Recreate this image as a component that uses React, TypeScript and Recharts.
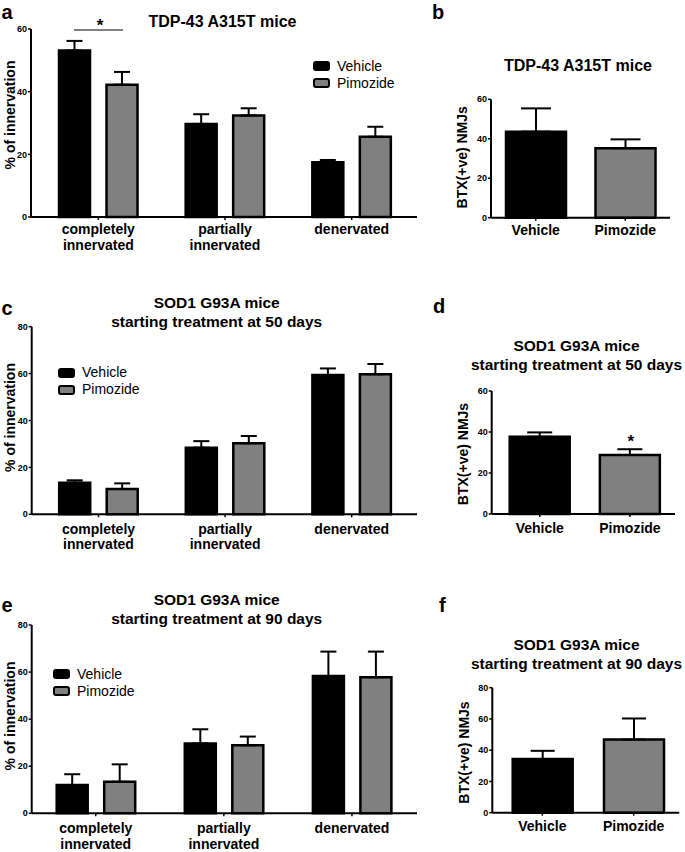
import React from 'react';
import { BarChart, Bar, XAxis, YAxis, ErrorBar, Cell, Legend } from 'recharts';

const FONT = '"Liberation Sans", Arial, Helvetica, sans-serif';
const BLACK = '#000000';
const GREY = '#808080';

// ---------- categories / tick labels ----------
const innervationCategories = ['completely innervated', 'partially innervated', 'denervated'];
const treatmentCategories = ['Vehicle', 'Pimozide'];
const ticks60 = [0, 20, 40, 60];
const ticks80 = [0, 20, 40, 60, 80];

// ---------- panel a : TDP-43 A315T, % of innervation ----------
const aVehicle = [53.1, 29.7, 17.5];
const aVehicleSem = [3.1, 3.1, 0.7];
const aPimozide = [42.2, 32.4, 25.6];
const aPimozideSem = [4.1, 2.3, 3.2];

// ---------- panel b : TDP-43 A315T, BTX(+ve) NMJs ----------
const bValues = [43.6, 35.2];
const bSem = [11.8, 4.5];

// ---------- panel c : SOD1 G93A, 50 days ----------
const cVehicle = [13.5, 28.4, 59.4];
const cVehicleSem = [1.0, 2.8, 2.8];
const cPimozide = [10.8, 30.3, 59.7];
const cPimozideSem = [2.4, 3.1, 4.4];

// ---------- panel d : SOD1 G93A, 50 days, NMJs ----------
const dValues = [37.7, 28.8];
const dSem = [2.1, 2.8];

// ---------- panel e : SOD1 G93A, 90 days ----------
const eVehicle = [12.0, 29.7, 58.3];
const eVehicleSem = [4.6, 6.0, 10.4];
const ePimozide = [13.4, 28.9, 57.8];
const ePimozideSem = [7.4, 3.7, 10.9];

// ---------- panel f : SOD1 G93A, 90 days, NMJs ----------
const fValues = [34.3, 46.8];
const fSem = [5.3, 13.5];

const groupedRows = (veh: number[], vehSem: number[], pim: number[], pimSem: number[]) =>
  innervationCategories.map((category, i) => ({
    category,
    Vehicle: veh[i],
    vehicleErr: [0, vehSem[i]],
    Pimozide: pim[i],
    pimozideErr: [0, pimSem[i]],
  }));

const singleRows = (values: number[], sem: number[]) =>
  treatmentCategories.map((category, i) => ({ category, value: values[i], err: [0, sem[i]] }));

const CategoryTick = (props: any) => {
  const { x, y, payload, base, gap } = props;
  const lines = String(payload.value).split(' ');
  return (
    <g>
      {lines.map((line: string, i: number) => (
        <text
          key={i}
          x={x}
          y={y - 5 + base + i * gap}
          textAnchor="middle"
          fontFamily={FONT}
          fontWeight="bold"
          fontSize={14}
          fill="#000"
        >
          {line}
        </text>
      ))}
    </g>
  );
};

const LegendContent = (props: any) => {
  const payload = [...(props.payload || [])].sort(
    (a: any, b: any) => treatmentCategories.indexOf(a.value) - treatmentCategories.indexOf(b.value)
  );
  return (
    <div style={{ fontFamily: FONT, fontSize: 14, color: '#000', lineHeight: '17px' }}>
      {payload.map((entry: any) => (
        <div key={entry.value} style={{ display: 'flex', alignItems: 'center', height: 17 }}>
          <span
            style={{
              display: 'inline-block',
              boxSizing: 'border-box',
              width: 17,
              height: 10,
              background: entry.value === 'Vehicle' ? BLACK : GREY,
              border: '2px solid #000',
              borderRadius: 3,
              marginRight: 7,
            }}
          />
          <span>{entry.value}</span>
        </div>
      ))}
    </div>
  );
};

const yTick = { fontSize: 9, fontWeight: 'bold', fill: '#000', fontFamily: FONT };

type GroupedProps = {
  rows: any[];
  left: number;
  top: number;
  width: number;
  height: number;
  margin: { top: number; right: number; bottom: number; left: number };
  yWidth: number;
  xHeight: number;
  max: number;
  ticks: number[];
  padL: number;
  padR: number;
  base: number;
  gap: number;
  legendLeft: number;
  legendTop: number;
};

const GroupedPanel = (p: GroupedProps) => (
  <div style={{ position: 'absolute', left: p.left, top: p.top }}>
    <BarChart width={p.width} height={p.height} data={p.rows} margin={p.margin} barSize={31} barGap={16.5}>
      <XAxis
        dataKey="category"
        height={p.xHeight}
        interval={0}
        padding={{ left: p.padL, right: p.padR }}
        axisLine={{ stroke: '#000', strokeWidth: 2 }}
        tickLine={{ stroke: '#000', strokeWidth: 1.5 }}
        tickSize={3}
        tick={<CategoryTick base={p.base} gap={p.gap} />}
      />
      <YAxis
        width={p.yWidth}
        domain={[0, p.max]}
        ticks={p.ticks}
        interval={0}
        axisLine={{ stroke: '#000', strokeWidth: 2 }}
        tickLine={{ stroke: '#000', strokeWidth: 1.5 }}
        tickSize={3}
        tickMargin={1}
        tick={yTick}
      />
      <Legend
        layout="vertical"
        align="center"
        verticalAlign="middle"
        content={<LegendContent />}
        wrapperStyle={{ left: p.legendLeft, top: p.legendTop, width: 'auto' }}
      />
      <Bar dataKey="Vehicle" name="Vehicle" fill={BLACK} stroke="#000" strokeWidth={2.5} isAnimationActive={false}>
        <ErrorBar dataKey="vehicleErr" direction="y" width={8} stroke="#000" strokeWidth={2} isAnimationActive={false} />
      </Bar>
      <Bar dataKey="Pimozide" name="Pimozide" fill={GREY} stroke="#000" strokeWidth={2.5} isAnimationActive={false}>
        <ErrorBar dataKey="pimozideErr" direction="y" width={8} stroke="#000" strokeWidth={2} isAnimationActive={false} />
      </Bar>
    </BarChart>
  </div>
);

type SingleProps = {
  rows: any[];
  left: number;
  top: number;
  width: number;
  height: number;
  margin: { top: number; right: number; bottom: number; left: number };
  yWidth: number;
  xHeight: number;
  max: number;
  ticks: number[];
  padL: number;
  padR: number;
  base: number;
  cap: number;
};

const SinglePanel = (p: SingleProps) => (
  <div style={{ position: 'absolute', left: p.left, top: p.top }}>
    <BarChart width={p.width} height={p.height} data={p.rows} margin={p.margin} barSize={60}>
      <XAxis
        dataKey="category"
        height={p.xHeight}
        interval={0}
        padding={{ left: p.padL, right: p.padR }}
        axisLine={{ stroke: '#000', strokeWidth: 2 }}
        tickLine={{ stroke: '#000', strokeWidth: 1.5 }}
        tickSize={3}
        tick={<CategoryTick base={p.base} gap={16} />}
      />
      <YAxis
        width={p.yWidth}
        domain={[0, p.max]}
        ticks={p.ticks}
        interval={0}
        axisLine={{ stroke: '#000', strokeWidth: 2 }}
        tickLine={{ stroke: '#000', strokeWidth: 1.5 }}
        tickSize={3}
        tickMargin={1}
        tick={yTick}
      />
      <Bar dataKey="value" stroke="#000" strokeWidth={2.5} isAnimationActive={false}>
        {p.rows.map((r: any) => (
          <Cell key={r.category} fill={r.category === 'Vehicle' ? BLACK : GREY} />
        ))}
        <ErrorBar dataKey="err" direction="y" width={p.cap} stroke="#000" strokeWidth={2} isAnimationActive={false} />
      </Bar>
    </BarChart>
  </div>
);

const T = (props: { x: number; y: number; size: number; children: any; anchor?: string; rotate?: boolean; weight?: string }) => (
  <text
    x={props.x}
    y={props.y}
    fontFamily={FONT}
    fontWeight={props.weight || 'bold'}
    fontSize={props.size}
    fill="#000"
    textAnchor={props.anchor || 'middle'}
    transform={props.rotate ? `rotate(-90 ${props.x} ${props.y})` : undefined}
  >
    {props.children}
  </text>
);

export default function App() {
  return (
    <div style={{ position: 'absolute', left: 0, top: 0, width: 685, height: 852, background: '#fff', overflow: 'hidden' }}>
      <GroupedPanel
        rows={groupedRows(aVehicle, aVehicleSem, aPimozide, aPimozideSem)}
        left={0}
        top={0}
        width={420}
        height={260}
        margin={{ top: 29, right: 3, bottom: 3, left: 0 }}
        yWidth={31}
        xHeight={40}
        max={60}
        ticks={ticks60}
        padL={4}
        padR={2}
        base={17}
        gap={16}
        legendLeft={313}
        legendTop={57.5}
      />
      <SinglePanel
        rows={singleRows(bValues, bSem)}
        left={420}
        top={0}
        width={265}
        height={260}
        margin={{ top: 99.3, right: 15, bottom: 2.3, left: 0 }}
        yWidth={71}
        xHeight={40}
        max={60}
        ticks={ticks60}
        padL={0}
        padR={0}
        base={17}
        cap={15}
      />
      <GroupedPanel
        rows={groupedRows(cVehicle, cVehicleSem, cPimozide, cPimozideSem)}
        left={0}
        top={280}
        width={420}
        height={280}
        margin={{ top: 46.7, right: 3, bottom: 5.7, left: 0 }}
        yWidth={31.7}
        xHeight={40}
        max={80}
        ticks={ticks80}
        padL={3.5}
        padR={2}
        base={20}
        gap={15}
        legendLeft={58}
        legendTop={84.2}
      />
      <SinglePanel
        rows={singleRows(dValues, dSem)}
        left={420}
        top={280}
        width={265}
        height={280}
        margin={{ top: 111, right: 10, bottom: 6, left: 0 }}
        yWidth={71.7}
        xHeight={40}
        max={60}
        ticks={ticks60}
        padL={3}
        padR={0}
        base={18.7}
        cap={12.5}
      />
      <GroupedPanel
        rows={groupedRows(eVehicle, eVehicleSem, ePimozide, ePimozideSem)}
        left={0}
        top={580}
        width={420}
        height={272}
        margin={{ top: 45, right: 3, bottom: 2.7, left: 0 }}
        yWidth={31.7}
        xHeight={36}
        max={80}
        ticks={ticks80}
        padL={0}
        padR={1}
        base={20}
        gap={16}
        legendLeft={53}
        legendTop={85.8}
      />
      <SinglePanel
        rows={singleRows(fValues, fSem)}
        left={420}
        top={580}
        width={265}
        height={272}
        margin={{ top: 107.7, right: 5.7, bottom: 3.3, left: 0 }}
        yWidth={72.3}
        xHeight={36}
        max={80}
        ticks={ticks80}
        padL={4.4}
        padR={0}
        base={18.3}
        cap={12}
      />
      <svg
        width={685}
        height={852}
        style={{ position: 'absolute', left: 0, top: 0, pointerEvents: 'none', overflow: 'visible' }}
      >
        {/* panel letters */}
        <T x={1.5} y={18.5} size={20} anchor="start">a</T>
        <T x={432} y={19} size={20} anchor="start">b</T>
        <T x={1.5} y={315} size={20} anchor="start">c</T>
        <T x={433} y={313.3} size={20} anchor="start">d</T>
        <T x={1.5} y={611.7} size={20} anchor="start">e</T>
        <T x={439} y={611.7} size={20} anchor="start">f</T>

        {/* titles */}
        <T x={222.5} y={26.5} size={16}>TDP-43 A315T mice</T>
        <T x={578} y={70.9} size={16}>TDP-43 A315T mice</T>
        <T x={216.7} y={307.5} size={15.5}>SOD1 G93A mice</T>
        <T x={216.7} y={327} size={15.5}>starting treatment at 50 days</T>
        <T x={576.5} y={350.9} size={15.5}>SOD1 G93A mice</T>
        <T x={576.5} y={370} size={15.5}>starting treatment at 50 days</T>
        <T x={216.7} y={604.9} size={15.5}>SOD1 G93A mice</T>
        <T x={216.7} y={624.4} size={15.5}>starting treatment at 90 days</T>
        <T x={576.5} y={649.9} size={15.5}>SOD1 G93A mice</T>
        <T x={576.5} y={669} size={15.5}>starting treatment at 90 days</T>

        {/* y-axis labels */}
        <T x={15} y={115} size={14} rotate>% of innervation</T>
        <T x={467.5} y={157.3} size={14} rotate>BTX(+ve) NMJs</T>
        <T x={15} y={417.5} size={14} rotate>% of innervation</T>
        <T x={468.3} y={454} size={14} rotate>BTX(+ve) NMJs</T>
        <T x={15} y={716} size={14} rotate>% of innervation</T>
        <T x={469} y={752.5} size={14} rotate>BTX(+ve) NMJs</T>

        {/* significance marks */}
        <line x1={74} y1={30} x2={123} y2={30} stroke="#000" strokeWidth={1} />
        <T x={100} y={31} size={17}>*</T>
        <T x={630.7} y={446.5} size={17}>*</T>
      </svg>
    </div>
  );
}
